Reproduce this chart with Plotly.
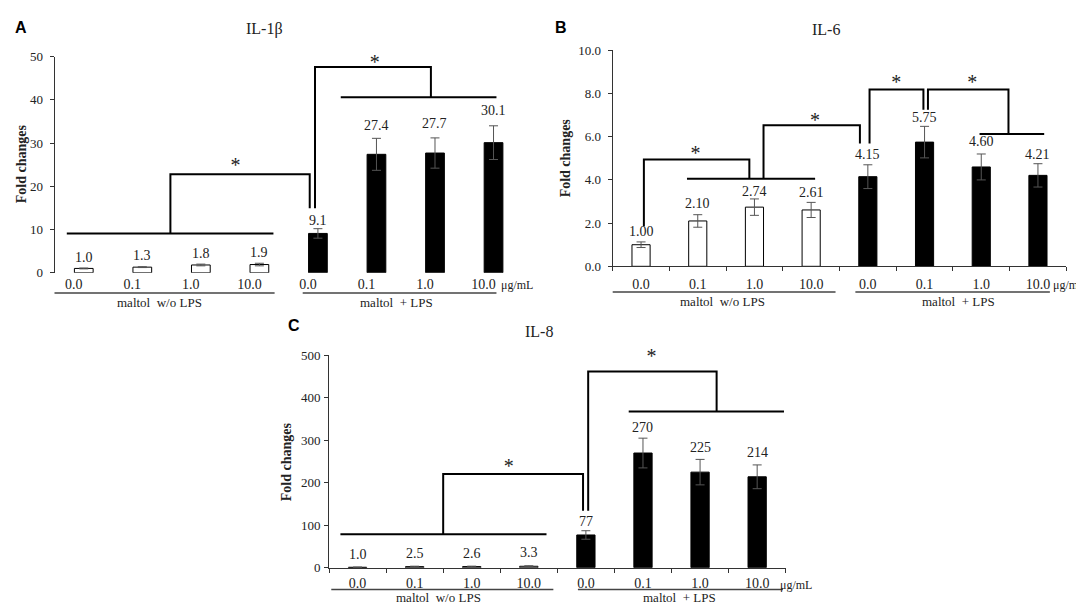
import plotly.graph_objects as go

W, H = 1084, 606

# ---------------- data ----------------
conc_labels = ["0.0", "0.1", "1.0", "10.0", "0.0", "0.1", "1.0", "10.0"]
group_labels = ["maltol  w/o LPS", "maltol  + LPS"]
bar_colors = ["white"] * 4 + ["black"] * 4
x_pos = list(range(8))

il1b_values = [1.0, 1.3, 1.8, 1.9, 9.1, 27.4, 27.7, 30.1]
il1b_errors = [0.1, 0.1, 0.2, 0.3, 1.1, 3.7, 3.5, 3.9]
il1b_text = ["1.0", "1.3", "1.8", "1.9", "9.1", "27.4", "27.7", "30.1"]

il6_values = [1.00, 2.10, 2.74, 2.61, 4.15, 5.75, 4.60, 4.21]
il6_errors = [0.13, 0.29, 0.38, 0.35, 0.55, 0.73, 0.60, 0.54]
il6_text = ["1.00", "2.10", "2.74", "2.61", "4.15", "5.75", "4.60", "4.21"]

il8_values = [1.0, 2.5, 2.6, 3.3, 77, 270, 225, 214]
il8_errors = [0.5, 1.0, 1.0, 1.2, 10, 35, 30, 28]
il8_text = ["1.0", "2.5", "2.6", "3.3", "77", "270", "225", "214"]

# significance brackets (polylines in data units) and star positions
il1b_brackets = [
    [(-0.29, 9.1), (3.24, 9.1)],
    [(1.48, 9.1), (1.48, 22.8), (3.86, 22.8), (3.86, 14.9)],
    [(3.95, 14.9), (3.95, 47.6), (5.93, 47.6), (5.93, 40.6)],
    [(4.39, 40.6), (7.05, 40.6)],
]
il1b_stars = [(2.59, 24.4), (4.97, 48.3)]

il6_brackets = [
    [(0.05, 1.85), (0.05, 4.95), (1.91, 4.95), (1.91, 4.05)],
    [(0.81, 4.05), (3.07, 4.05)],
    [(2.16, 4.05), (2.16, 6.53), (3.86, 6.53), (3.86, 5.68)],
    [(4.03, 5.68), (4.03, 8.18), (4.98, 8.18), (4.98, 7.25)],
    [(5.06, 7.25), (5.06, 8.18), (6.48, 8.18), (6.48, 6.13)],
    [(5.97, 6.13), (7.11, 6.13)],
]
il6_stars = [(0.96, 5.13), (3.07, 6.66), (4.5, 8.43), (5.84, 8.43)]

il8_brackets = [
    [(-0.30, 79), (3.31, 79)],
    [(1.50, 79), (1.50, 220.6), (3.95, 220.6), (3.95, 134)],
    [(4.04, 134), (4.04, 461.8), (6.29, 461.8), (6.29, 367.6)],
    [(4.75, 367.6), (7.47, 367.6)],
]
il8_stars = [(2.65, 235), (5.15, 493)]

# ---------------- layout helpers ----------------
SERIF = "Liberation Serif"
SANS = "Liberation Sans"
AX = "#333333"
TXT = "#222222"


def fx(px):
    return px / W


def fy(py):
    return 1 - py / H


panels = [
    dict(letter="A", title="IL-1β", values=il1b_values, errors=il1b_errors, text=il1b_text,
         brackets=il1b_brackets, stars=il1b_stars,
         label_pad=[11, 11, 11, 11, 8, 13, 14, 15],
         xdom=(46.5, 514.8), ydom=(264.3, 42.7), yrange=[0, 50], dtick=10, tickformat="d",
         show_xline=False, tlshift=-10, tlstand=1, ytstand=4,
         underlines=[(-0.55, 3.26), (3.74, 7.05)], underline_y=285,
         group_x=[1.29, 5.34], group_y=295, unit_x=7.11, unit_y=277,
         letter_xy=(13, 12.5), title_xy=(256, 14), ytitle_xy=(13, 153)),
    dict(letter="B", title="IL-6", values=il6_values, errors=il6_errors, text=il6_text,
         brackets=il6_brackets, stars=il6_stars,
         label_pad=[10.5, 11.5, 7, 9.6, 10.7, 9, 12, 9],
         xdom=(604.7, 1058.3), ydom=(257.7, 36.2), yrange=[0, 10], dtick=2, tickformat=".1f",
         show_xline=True, tlshift=0, tlstand=5, ytstand=4,
         underlines=[(-0.60, 3.43), (3.78, 7.21)], underline_y=284,
         group_x=[1.43, 5.6], group_y=294, unit_x=7.25, unit_y=277,
         letter_xy=(553, 13.3), title_xy=(818, 15), ytitle_xy=(557, 147)),
    dict(letter="C", title="IL-8", values=il8_values, errors=il8_errors, text=il8_text,
         brackets=il8_brackets, stars=il8_stars,
         label_pad=[13, 13, 13, 13, 9, 11, 12, 12],
         xdom=(321, 777.7), ydom=(566.7, 349), yrange=[0, 500], dtick=100, tickformat="d",
         show_xline=True, tlshift=0, tlstand=3, ytstand=1,
         underlines=[(-0.46, 3.43), (3.86, 7.45)], underline_y=589,
         group_x=[1.41, 5.64], group_y=597.5, unit_x=7.38, unit_y=584,
         letter_xy=(285.5, 318), title_xy=(531, 325), ytitle_xy=(278.6, 458)),
]

fig = go.Figure()
annotations = []
shapes = []

for k, p in enumerate(panels):
    sfx = "" if k == 0 else str(k + 1)
    xref, yref = "x" + sfx, "y" + sfx

    fig.add_trace(go.Bar(
        x=x_pos, y=p["values"], width=0.32,
        marker=dict(color=bar_colors, line=dict(color="black", width=1)),
        error_y=dict(type="data", array=p["errors"], visible=True,
                     color="#555555", thickness=1, width=4.5),
        xaxis=xref, yaxis=yref, showlegend=False, hoverinfo="skip",
    ))

    # brackets
    bx, by = [], []
    for seg in p["brackets"]:
        for (u, v) in seg:
            bx.append(u)
            by.append(v)
        bx.append(None)
        by.append(None)
    fig.add_trace(go.Scatter(
        x=bx, y=by, mode="lines", line=dict(color="black", width=2),
        xaxis=xref, yaxis=yref, showlegend=False, hoverinfo="skip", cliponaxis=False,
    ))

    # significance stars
    fig.add_trace(go.Scatter(
        x=[s[0] for s in p["stars"]], y=[s[1] for s in p["stars"]],
        mode="text", text=["*"] * len(p["stars"]), textposition="middle center",
        textfont=dict(family=SERIF, size=20, color=TXT),
        xaxis=xref, yaxis=yref, showlegend=False, hoverinfo="skip", cliponaxis=False,
    ))

    xa = dict(
        domain=[fx(p["xdom"][0]), fx(p["xdom"][1])], range=[-0.5, 7.5],
        tickmode="array", tickvals=x_pos, ticktext=conc_labels,
        ticks="", showgrid=False, zeroline=False,
        showline=p["show_xline"], linecolor=AX, linewidth=1,
        tickfont=dict(family=SERIF, size=14, color=TXT),
        ticklabelshift=p["tlshift"], ticklabelstandoff=p["tlstand"],
        anchor=yref, fixedrange=True,
    )
    if p["show_xline"]:
        xa["minor"] = dict(tickmode="array", tickvals=[i - 0.5 for i in range(9)],
                           ticks="outside", ticklen=4, tickcolor=AX, tickwidth=1)
    ya = dict(
        domain=[fy(p["ydom"][0]), fy(p["ydom"][1])], range=p["yrange"],
        dtick=p["dtick"], tick0=0, tickformat=p["tickformat"],
        ticks="outside", ticklen=4, tickcolor=AX, tickwidth=1,
        showline=True, linecolor=AX, linewidth=1,
        showgrid=False, zeroline=False,
        tickfont=dict(family=SERIF, size=13, color=TXT),
        ticklabelstandoff=p["ytstand"],
        anchor=xref, fixedrange=True,
    )
    fig.update_layout({"xaxis" + sfx: xa, "yaxis" + sfx: ya})

    # value labels
    for i, (v, e, t) in enumerate(zip(p["values"], p["errors"], p["text"])):
        annotations.append(dict(
            x=x_pos[i], y=v + e, xref=xref, yref=yref, text=t, showarrow=False,
            xanchor="center", yanchor="middle", yshift=p["label_pad"][i],
            font=dict(family=SERIF, size=14, color=TXT),
        ))
    # group underlines and labels
    for (g0, g1), gx, gl in zip(p["underlines"], p["group_x"], group_labels):
        shapes.append(dict(type="line", xref=xref, yref="paper",
                           x0=g0, x1=g1, y0=fy(p["underline_y"]), y1=fy(p["underline_y"]),
                           line=dict(color="#444444", width=1.5)))
        annotations.append(dict(
            x=gx, y=fy(p["group_y"]), xref=xref, yref="paper", text=gl, showarrow=False,
            xanchor="center", yanchor="middle", borderpad=0,
            font=dict(family=SERIF, size=13, color=TXT),
        ))
    annotations.append(dict(
        x=p["unit_x"], y=fy(p["unit_y"]), xref=xref, yref="paper", text="μg/mL",
        showarrow=False, xanchor="left", yanchor="middle", borderpad=0,
        font=dict(family=SERIF, size=12, color=TXT),
    ))
    # panel letter, title, y title
    annotations.append(dict(
        x=fx(p["letter_xy"][0]), y=fy(p["letter_xy"][1]), xref="paper", yref="paper",
        text="<b>" + p["letter"] + "</b>", showarrow=False, xanchor="center", yanchor="middle",
        font=dict(family=SANS, size=16, color="black"),
    ))
    annotations.append(dict(
        x=fx(p["title_xy"][0]), y=fy(p["title_xy"][1]), xref="paper", yref="paper",
        text=p["title"], showarrow=False, xanchor="center", yanchor="middle",
        font=dict(family=SERIF, size=16, color=TXT),
    ))
    annotations.append(dict(
        x=fx(p["ytitle_xy"][0]), y=fy(p["ytitle_xy"][1]), xref="paper", yref="paper",
        text="<b>Fold changes</b>", showarrow=False, textangle=-90,
        xanchor="center", yanchor="middle",
        font=dict(family=SERIF, size=14, color=TXT),
    ))

fig.update_layout(
    width=W, height=H, margin=dict(l=0, r=0, t=0, b=0),
    paper_bgcolor="white", plot_bgcolor="white",
    annotations=annotations, shapes=shapes,
)

fig.write_html("out.html")
